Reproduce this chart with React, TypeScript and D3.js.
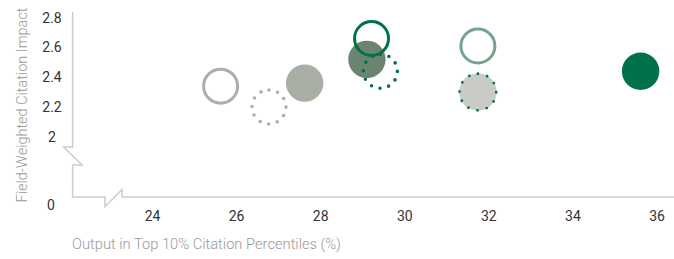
import * as React from 'react';
import * as d3 from 'd3';

const X_TICKS = [24, 26, 28, 30, 32, 34, 36];
const Y_TICKS = [2, 2.2, 2.4, 2.6, 2.8];

// output in top 10% (x), field-weighted citation impact (y)
const X_VALUES = [25.62, 26.77, 27.62, 29.1, 29.42, 29.21, 31.74, 31.74, 35.61];
const Y_VALUES = [2.34, 2.2, 2.36, 2.52, 2.44, 2.66, 2.61, 2.3, 2.44];
const KINDS = ['ring', 'dots', 'fill', 'fill', 'dots', 'ring', 'ring', 'fillDots', 'fill'];
const COLORS = ['#a9b1a7', '#adadad', '#a8b0a5', '#6b8371', '#00714b', '#00714b', '#77a38b', '#c8cbc6', '#00714b'];
const DOT_COLORS = ['', '', '', '', '', '', '', '#00714b', ''];

interface Pt {
    x: number;
    y: number;
    kind: string;
    color: string;
    dot: string;
}

const DATA: Pt[] = X_VALUES.map((x, i) => ({
    x,
    y: Y_VALUES[i],
    kind: KINDS[i],
    color: COLORS[i],
    dot: DOT_COLORS[i]
}));

const WIDTH = 674;
const HEIGHT = 259;
const FONT = 'Roboto, "Liberation Sans", sans-serif';

const App: React.FC = () => {
    const svgRef = React.useRef<SVGSVGElement>(null);

    React.useEffect(() => {
        const svg = d3.select(svgRef.current);
        svg.selectAll('*').remove();

        const xScale = d3.scaleLinear().domain([24, 36]).range([152.5, 657]);
        const yScale = d3.scaleLinear().domain([2, 2.8]).range([136.7, 17.7]);
        const x0 = xScale(22.1);
        const baseY = 197;
        const AXIS = '#cccccc';

        /** ******** Axes with breaks ********* */
        const axisPath = [
            [x0, 12],
            [x0, 147],
            [x0 - 9, 147],
            [x0 + 9.5, 165],
            [x0, 165],
            [x0, baseY],
            [105, baseY],
            [105, 206.5],
            [122, 189.5],
            [122, baseY],
            [WIDTH, baseY]
        ] as [number, number][];
        svg.append('path')
            .attr('d', d3.line()(axisPath))
            .attr('fill', 'none')
            .attr('stroke', AXIS)
            .attr('stroke-width', 1.5);

        // tick labels
        svg.append('g')
            .selectAll('text')
            .data(X_TICKS)
            .enter()
            .append('text')
            .attr('x', d => xScale(d))
            .attr('y', 216)
            .attr('text-anchor', 'middle')
            .attr('dominant-baseline', 'central')
            .attr('font-family', FONT)
            .attr('font-size', 14)
            .attr('fill', '#333')
            .text(d => d);

        svg.append('g')
            .selectAll('text')
            .data(Y_TICKS)
            .enter()
            .append('text')
            .attr('x', 52)
            .attr('y', d => yScale(d))
            .attr('text-anchor', 'middle')
            .attr('dominant-baseline', 'central')
            .attr('font-family', FONT)
            .attr('font-size', 14)
            .attr('fill', '#333')
            .text(d => d3.format('~g')(d));

        svg.append('text')
            .attr('x', 51)
            .attr('y', 205)
            .attr('text-anchor', 'middle')
            .attr('dominant-baseline', 'central')
            .attr('font-family', FONT)
            .attr('font-size', 14)
            .attr('fill', '#333')
            .text('0');

        // axis titles
        svg.append('text')
            .attr('x', 72)
            .attr('y', 244)
            .attr('dominant-baseline', 'central')
            .attr('font-family', FONT)
            .attr('font-weight', 300)
            .attr('font-size', 14.7)
            .attr('fill', '#999')
            .text('Output in Top 10% Citation Percentiles (%)');

        svg.append('text')
            .attr('transform', 'translate(22,105) rotate(-90)')
            .attr('text-anchor', 'middle')
            .attr('dominant-baseline', 'central')
            .attr('font-family', FONT)
            .attr('font-weight', 300)
            .attr('font-size', 14.5)
            .attr('fill', '#999')
            .text('Field-Weighted Citation Impact');

        /** ******** Bubbles ********* */
        const g = svg.append('g');
        DATA.forEach(d => {
            const cx = xScale(d.x);
            const cy = yScale(d.y);
            if (d.kind === 'fill' || d.kind === 'fillDots') {
                g.append('circle').attr('cx', cx).attr('cy', cy).attr('r', 18.7).attr('fill', d.color);
            }
            if (d.kind === 'ring') {
                g.append('circle')
                    .attr('cx', cx)
                    .attr('cy', cy)
                    .attr('r', 17)
                    .attr('fill', 'none')
                    .attr('stroke', d.color)
                    .attr('stroke-width', 3);
            }
            if (d.kind === 'dots' || d.kind === 'fillDots') {
                const r = d.kind === 'dots' ? 17 : 18.3;
                const gap = (2 * Math.PI * r) / 12;
                g.append('circle')
                    .attr('cx', cx)
                    .attr('cy', cy)
                    .attr('r', r)
                    .attr('fill', 'none')
                    .attr('stroke', d.kind === 'dots' ? d.color : d.dot)
                    .attr('stroke-width', d.kind === 'dots' ? 3.6 : 2.8)
                    .attr('stroke-linecap', 'round')
                    .attr('stroke-dasharray', `0 ${gap}`)
                    .attr('transform', `rotate(-90 ${cx} ${cy})`);
            }
        });
    });

    return (
        <svg
            ref={svgRef}
            width={WIDTH}
            height={HEIGHT}
            style={{ position: 'absolute', left: 0, top: 0, background: '#fff' }}
        />
    );
};

export default App;
